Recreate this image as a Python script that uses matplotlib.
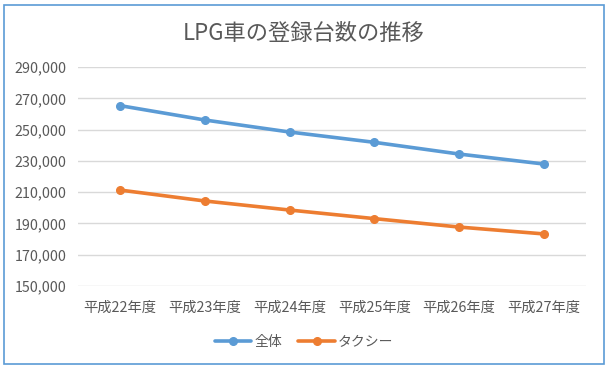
import numpy as np
import matplotlib.pyplot as plt
from matplotlib.patches import Rectangle
from matplotlib.ticker import FuncFormatter

plt.rcParams['font.family'] = ['Noto Sans CJK JP', 'DejaVu Sans']

# datos
categories = ['平成22年度', '平成23年度', '平成24年度', '平成25年度', '平成26年度', '平成27年度']
total = [265400, 256200, 248500, 241900, 234400, 228000]
taxi = [211300, 204300, 198500, 193000, 187600, 183200]
series_names = ['全体', 'タクシー']

blue = '#5B9BD5'
orange = '#ED7D31'
gray = '#595959'

fig = plt.figure(figsize=(6.08, 3.69), dpi=100)
ax = fig.add_axes([0.128, 0.2257, 0.836, 0.592])

x = np.arange(len(categories))
ax.plot(x, total, color=blue, lw=2.6, marker='o', ms=5.5, label=series_names[0],
        solid_capstyle='round')
ax.plot(x, taxi, color=orange, lw=2.6, marker='o', ms=5.5, label=series_names[1],
        solid_capstyle='round')

ax.set_xlim(-0.5, len(categories) - 0.5)
ax.set_ylim(150000, 290000)
ax.set_yticks(np.arange(150000, 290001, 20000))
ax.yaxis.set_major_formatter(FuncFormatter(lambda v, p: f'{int(v):,}'))
ax.set_xticks(x)
ax.set_xticklabels(categories)
ax.grid(axis='y', color='#D9D9D9', lw=1)
ax.set_axisbelow(True)
for s in ax.spines.values():
    s.set_visible(False)
ax.tick_params(axis='both', length=0, labelsize=10.3, colors=gray)
ax.tick_params(axis='x', pad=11)
ax.tick_params(axis='y', pad=8)

fig.text(0.5, 0.91, 'LPG車の登録台数の推移', ha='center', va='center',
         fontsize=16, color=gray)

fig.legend(loc='center', bbox_to_anchor=(0.5, 1 - 342 / 369), ncol=2, frameon=False,
           fontsize=10, labelcolor=gray, handlelength=2.6, columnspacing=1.2,
           handletextpad=0.2)

# borde exterior
fig.patches.append(Rectangle((4 / 608, 5 / 369), 600 / 608, 359 / 369,
                             transform=fig.transFigure, fill=False,
                             edgecolor=blue, lw=1.2))

fig.savefig('out.png', dpi=100)
